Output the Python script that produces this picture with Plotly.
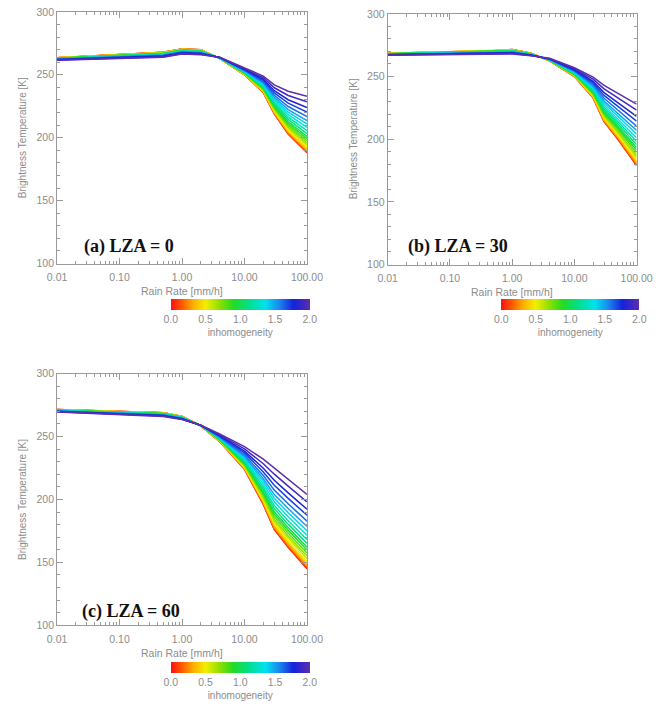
import plotly.graph_objects as go
from plotly.colors import sample_colorscale

# ---------------- data ----------------
rain_rate = [0.01, 0.5, 1, 2, 4, 10, 20, 30, 50, 100]          # mm/h
inhomogeneity = [0.0, 0.1, 0.2, 0.3, 0.4, 0.5, 0.6, 0.7, 0.8, 0.9, 1.0,
                 1.1, 1.2, 1.3, 1.4, 1.5, 1.6, 1.7, 1.8, 1.9, 2.0]

x_tick_vals = [0.01, 0.1, 1, 10, 100]
x_tick_text = ["0.01", "0.10", "1.00", "10.00", "100.00"]
y_tick_vals = [100, 150, 200, 250, 300]
cb_tick_vals = [0.0, 0.5, 1.0, 1.5, 2.0]
cb_tick_text = ["0.0", "0.5", "1.0", "1.5", "2.0"]

# Brightness temperature [K], one row per inhomogeneity level
tb_lza0 = [
    [263.6, 268.0, 270.6, 270.0, 263.0, 250.0, 236.0, 219.0, 203.0, 188.0],
    [263.6, 268.0, 270.6, 270.0, 263.0, 250.1, 236.1, 219.2, 203.3, 188.5],
    [263.5, 267.9, 270.5, 269.9, 263.0, 250.1, 236.3, 219.6, 203.9, 189.1],
    [263.5, 267.8, 270.4, 269.8, 263.0, 250.2, 236.6, 220.0, 204.5, 190.0],
    [263.5, 267.7, 270.3, 269.7, 263.1, 250.4, 236.9, 220.6, 205.4, 191.2],
    [263.4, 267.6, 270.2, 269.6, 263.1, 250.6, 237.3, 221.3, 206.4, 192.5],
    [263.3, 267.5, 270.1, 269.5, 263.1, 250.7, 237.8, 222.1, 207.6, 194.1],
    [263.3, 267.3, 269.9, 269.3, 263.2, 250.9, 238.2, 222.9, 208.8, 195.7],
    [263.2, 267.2, 269.8, 269.2, 263.2, 251.2, 238.7, 223.8, 210.1, 197.5],
    [263.1, 267.0, 269.6, 269.0, 263.3, 251.4, 239.3, 224.8, 211.5, 199.3],
    [263.0, 266.8, 269.4, 268.8, 263.3, 251.6, 239.8, 225.7, 212.9, 201.1],
    [262.9, 266.6, 269.2, 268.6, 263.3, 251.9, 240.4, 226.8, 214.6, 203.3],
    [262.8, 266.4, 269.0, 268.4, 263.4, 252.1, 241.1, 228.0, 216.3, 205.6],
    [262.7, 266.2, 268.8, 268.2, 263.5, 252.5, 241.9, 229.4, 218.3, 208.3],
    [262.6, 266.0, 268.6, 268.0, 263.5, 252.8, 242.6, 230.7, 220.3, 211.0],
    [262.5, 265.7, 268.3, 267.7, 263.6, 253.1, 243.4, 232.1, 222.4, 213.7],
    [262.3, 265.4, 268.0, 267.4, 263.6, 253.5, 244.3, 233.7, 224.8, 216.8],
    [262.2, 265.1, 267.7, 267.1, 263.7, 254.0, 245.4, 235.6, 227.5, 220.4],
    [262.0, 264.8, 267.4, 266.8, 263.8, 254.4, 246.4, 237.4, 230.2, 224.0],
    [261.8, 264.4, 267.0, 266.4, 263.9, 255.0, 247.7, 239.7, 233.6, 228.5],
    [261.6, 264.0, 266.6, 266.0, 264.0, 255.5, 249.0, 242.0, 237.0, 233.0],
]

tb_lza30 = [
    [268.5, 270.5, 271.5, 268.5, 262.5, 250.0, 233.0, 214.0, 200.0, 179.0],
    [268.5, 270.5, 271.5, 268.5, 262.5, 250.1, 233.2, 214.3, 200.4, 179.5],
    [268.5, 270.4, 271.4, 268.5, 262.6, 250.2, 233.4, 214.7, 200.9, 180.2],
    [268.4, 270.4, 271.3, 268.4, 262.6, 250.3, 233.7, 215.3, 201.6, 181.2],
    [268.4, 270.3, 271.3, 268.4, 262.6, 250.5, 234.2, 216.0, 202.6, 182.4],
    [268.4, 270.3, 271.2, 268.3, 262.7, 250.7, 234.7, 216.9, 203.7, 183.9],
    [268.3, 270.2, 271.0, 268.2, 262.8, 250.9, 235.2, 217.9, 204.9, 185.6],
    [268.2, 270.1, 270.9, 268.2, 262.8, 251.2, 235.8, 218.9, 206.2, 187.3],
    [268.2, 270.0, 270.8, 268.1, 262.9, 251.5, 236.5, 220.1, 207.7, 189.3],
    [268.1, 269.9, 270.6, 268.0, 263.0, 251.8, 237.1, 221.3, 209.1, 191.3],
    [268.1, 269.8, 270.5, 267.9, 263.1, 252.0, 237.8, 222.4, 210.6, 193.2],
    [268.0, 269.7, 270.3, 267.8, 263.2, 252.4, 238.6, 223.9, 212.4, 195.7],
    [267.9, 269.5, 270.1, 267.7, 263.3, 252.7, 239.4, 225.3, 214.2, 198.1],
    [267.8, 269.4, 269.9, 267.6, 263.4, 253.2, 240.4, 227.1, 216.4, 201.1],
    [267.7, 269.2, 269.7, 267.5, 263.5, 253.6, 241.4, 228.8, 218.6, 204.0],
    [267.6, 269.1, 269.5, 267.4, 263.6, 254.0, 242.4, 230.5, 220.8, 206.9],
    [267.5, 268.9, 269.3, 267.2, 263.8, 254.5, 243.6, 232.6, 223.4, 210.4],
    [267.4, 268.7, 269.0, 267.1, 263.9, 255.0, 244.9, 234.9, 226.3, 214.3],
    [267.3, 268.5, 268.7, 266.9, 264.1, 255.6, 246.2, 237.2, 229.2, 218.2],
    [267.2, 268.3, 268.4, 266.7, 264.3, 256.3, 247.9, 240.1, 232.9, 223.1],
    [267.0, 268.0, 268.0, 266.5, 264.5, 257.0, 249.5, 243.0, 236.5, 228.0],
]

tb_lza60 = [
    [271.5, 269.0, 266.0, 258.5, 246.0, 224.0, 196.0, 176.0, 162.0, 145.0],
    [271.5, 269.0, 266.0, 258.5, 246.1, 224.2, 196.4, 176.5, 162.5, 145.6],
    [271.5, 268.9, 265.9, 258.5, 246.2, 224.5, 196.9, 177.2, 163.4, 146.5],
    [271.4, 268.9, 265.9, 258.5, 246.3, 224.8, 197.6, 178.2, 164.4, 147.7],
    [271.4, 268.8, 265.8, 258.5, 246.4, 225.3, 198.5, 179.4, 165.8, 149.1],
    [271.3, 268.7, 265.8, 258.6, 246.6, 225.8, 199.6, 180.9, 167.4, 150.9],
    [271.2, 268.6, 265.7, 258.6, 246.8, 226.4, 200.9, 182.6, 169.3, 153.0],
    [271.2, 268.5, 265.6, 258.6, 247.0, 227.1, 202.1, 184.3, 171.2, 155.0],
    [271.1, 268.4, 265.5, 258.6, 247.3, 227.8, 203.6, 186.3, 173.3, 157.4],
    [271.0, 268.3, 265.4, 258.6, 247.5, 228.5, 205.0, 188.3, 175.5, 159.8],
    [270.9, 268.1, 265.3, 258.6, 247.7, 229.2, 206.4, 190.2, 177.7, 162.1],
    [270.8, 268.0, 265.2, 258.7, 248.0, 230.1, 208.2, 192.7, 180.4, 165.1],
    [270.7, 267.8, 265.0, 258.7, 248.3, 231.0, 210.0, 195.1, 183.1, 168.0],
    [270.6, 267.7, 264.9, 258.7, 248.7, 232.1, 212.2, 198.1, 186.3, 171.6],
    [270.5, 267.5, 264.7, 258.8, 249.1, 233.2, 214.4, 201.0, 189.5, 175.1],
    [270.4, 267.3, 264.6, 258.8, 249.4, 234.3, 216.5, 203.9, 192.8, 178.6],
    [270.2, 267.1, 264.4, 258.8, 249.8, 235.5, 219.0, 207.4, 196.6, 182.8],
    [270.1, 266.8, 264.2, 258.9, 250.3, 237.0, 221.9, 211.3, 200.9, 187.5],
    [269.9, 266.6, 264.0, 258.9, 250.8, 238.4, 224.8, 215.2, 205.2, 192.2],
    [269.7, 266.3, 263.8, 259.0, 251.4, 240.2, 228.4, 220.1, 210.6, 198.1],
    [269.5, 266.0, 263.5, 259.0, 252.0, 242.0, 232.0, 225.0, 216.0, 204.0],
]

panel_labels = ["(a) LZA = 0", "(b) LZA = 30", "(c) LZA = 60"]

# ---------------- styling ----------------
W, H = 668, 706
CSCALE = [
    [0.00, "#ff1010"], [0.08, "#ff5a00"], [0.16, "#ffae00"], [0.25, "#f2ee00"],
    [0.35, "#8ee000"], [0.45, "#22dc22"], [0.56, "#00e08c"], [0.68, "#00e2f0"],
    [0.78, "#1a86ee"], [0.88, "#1422dc"], [1.00, "#5e2eae"],
]
GRAY = "#8c8c8c"
AXC = "#9a9a9a"
SANS = "Liberation Sans"

def px_x(p):
    return p / W

def px_y(p):
    return 1 - p / H

# plot boxes in pixels: left, right, top, bottom
boxes = [(49, 309, 6, 262), (393, 652, 8, 263), (49, 309, 374, 630)]
cbars = [(170, 309, 298), (514, 652, 298), (170, 309, 667)]
label_pos = [(75, 245), (412, 245), (73, 616)]

minor_x = [k * d for d in (0.01, 0.1, 1, 10) for k in range(2, 10)]

fig = go.Figure()
datasets = [tb_lza0, tb_lza30, tb_lza60]
layout = {}
annotations = []
for i, tb in enumerate(datasets):
    n = "" if i == 0 else str(i + 1)
    xa, ya = "x" + n, "y" + n
    for h, row in zip(inhomogeneity, tb):
        col = sample_colorscale(CSCALE, h / 2.0)[0]
        fig.add_trace(go.Scatter(x=rain_rate, y=row, mode="lines",
                                 line=dict(color=col, width=1.5),
                                 xaxis=xa, yaxis=ya, showlegend=False,
                                 hoverinfo="skip"))
    ca = "coloraxis" + n
    fig.add_trace(go.Scatter(x=[None], y=[None], mode="markers",
                             marker=dict(color=[inhomogeneity[0]], coloraxis=ca),
                             xaxis=xa, yaxis=ya, showlegend=False,
                             hoverinfo="skip"))
    L, R, T, B = boxes[i]
    common = dict(showline=True, linecolor=AXC, linewidth=1, mirror="ticks",
                  ticks="inside", tickcolor=AXC, showgrid=False, zeroline=False,
                  tickfont=dict(family=SANS, size=10.5, color=GRAY))
    layout["xaxis" + n] = dict(common, type="log", range=[-2, 2],
                               domain=[px_x(L), px_x(R)], anchor=ya,
                               tickvals=x_tick_vals, ticktext=x_tick_text,
                               ticklen=6, ticklabelstandoff=4,
                               minor=dict(tickvals=minor_x, ticks="inside",
                                          ticklen=3, tickcolor=AXC))
    layout["yaxis" + n] = dict(common, range=[100, 300],
                               domain=[px_y(B), px_y(T)], anchor=xa,
                               tickvals=y_tick_vals, ticklen=6,
                               minor=dict(dtick=10, ticks="inside",
                                          ticklen=3, tickcolor=AXC))
    cl, cr, ct = cbars[i]
    layout[ca] = dict(cmin=0, cmax=2, colorscale=CSCALE,
                      colorbar=dict(orientation="h", lenmode="pixels", len=cr - cl,
                                    thicknessmode="pixels", thickness=11,
                                    x=px_x((cl + cr) / 2), xanchor="center",
                                    y=px_y(ct), yanchor="top", xpad=0, ypad=0,
                                    outlinewidth=0, ticks="",
                                    tickvals=cb_tick_vals, ticktext=cb_tick_text,
                                    tickfont=dict(family=SANS, size=10.5, color=GRAY),
                                    title=dict(text="inhomogeneity", side="bottom",
                                               font=dict(family=SANS, size=10, color=GRAY))))
    # axis titles
    annotations.append(dict(text="Rain Rate [mm/h]", xref="paper", yref="paper",
                            x=px_x((L + R) / 2), y=px_y(B + 28), showarrow=False,
                            xanchor="center", yanchor="middle",
                            font=dict(family=SANS, size=10.5, color=GRAY)))
    annotations.append(dict(text="Brightness Temperature [K]", xref="paper", yref="paper",
                            x=px_x(L - 36), y=px_y((T + B) / 2), showarrow=False,
                            textangle=-90, xanchor="center", yanchor="middle",
                            font=dict(family=SANS, size=10, color=GRAY)))
    lx, ly = label_pos[i]
    annotations.append(dict(text=panel_labels[i], xref="paper", yref="paper",
                            x=px_x(lx), y=px_y(ly), showarrow=False,
                            xanchor="left", yanchor="middle",
                            font=dict(family="Liberation Serif", size=18,
                                      color="#111111", weight="bold")))

fig.update_layout(width=W, height=H, margin=dict(l=0, r=0, t=0, b=0),
                  paper_bgcolor="white", plot_bgcolor="white",
                  annotations=annotations, **layout)
fig.write_html("out.html")
